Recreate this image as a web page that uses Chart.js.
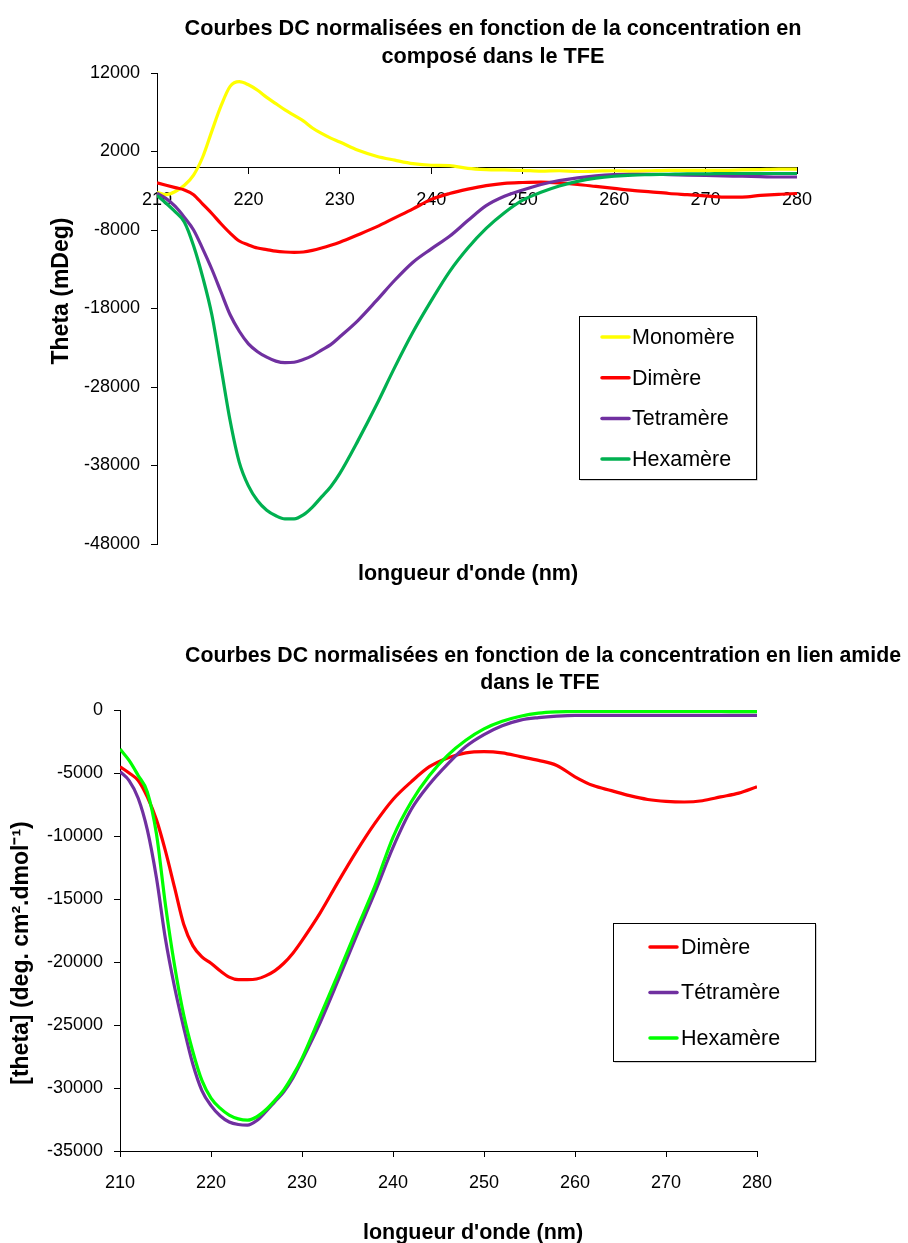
<!DOCTYPE html>
<html><head><meta charset="utf-8">
<script src="https://cdn.jsdelivr.net/npm/chart.js@4.4.1/dist/chart.umd.min.js"></script>
<style>
html,body{margin:0;padding:0;background:#fff;overflow:hidden;width:908px;height:1243px;}
#c1{position:absolute;left:0;top:0;}
#c2{position:absolute;left:0;top:610px;}
</style></head><body>
<canvas id="c1" width="908" height="600"></canvas>
<canvas id="c2" width="908" height="633"></canvas>
<script>
// ---------- data ----------
const wavelengths = [210,211,212,213,214,215,216,217,218,219,220,221,222,223,224,225,226,227,228,229,230,
  232,234,236,238,240,242,244,246,248,250,252,254,256,258,260,262,264,266,268,270,272,274,276,278,280];

// Chart 1 : mDeg
const topMonomere = [-3200,-3500,-3100,-2300,-1000,1300,4600,7800,10300,10900,10500,9800,8900,8100,7300,6600,5900,5000,4300,3700,3200,
  2150,1400,900,450,250,200,-150,-300,-350,-400,-500,-450,-550,-500,-450,-500,-450,-400,-400,-400,-400,-350,-300,-250,-250];
const topDimere = [-2000,-2300,-2600,-2900,-3500,-4700,-5900,-7200,-8400,-9400,-9900,-10300,-10500,-10700,-10800,-10850,-10800,-10600,-10300,-9950,-9550,
  -8600,-7600,-6450,-5300,-4100,-3350,-2800,-2350,-2050,-1950,-1900,-2000,-2200,-2450,-2700,-2950,-3150,-3350,-3500,-3650,-3800,-3800,-3600,-3450,-3350];
const topTetramere = [-3300,-4000,-5000,-6400,-8000,-10400,-13000,-15900,-18800,-20900,-22500,-23500,-24200,-24700,-24900,-24850,-24500,-24000,-23300,-22600,-21600,
  -19500,-17000,-14400,-12100,-10400,-8800,-6800,-4900,-3700,-2900,-2200,-1700,-1350,-1100,-950,-900,-900,-950,-1000,-1050,-1100,-1150,-1200,-1250,-1250];
const topHexamere = [-3600,-4600,-5700,-7000,-10000,-14000,-18800,-25500,-32300,-37600,-40600,-42500,-43700,-44400,-44800,-44800,-44300,-43300,-42000,-40700,-39000,
  -34800,-30300,-25500,-21000,-17000,-13300,-10300,-7800,-5800,-4200,-3200,-2400,-1800,-1400,-1150,-1000,-950,-900,-850,-850,-800,-800,-800,-800,-800];

// Chart 2 : deg.cm2.dmol-1
const botDimere = [-4500,-5000,-5600,-6900,-8700,-11200,-14100,-17000,-18700,-19600,-20100,-20700,-21200,-21400,-21400,-21350,-21100,-20700,-20100,-19300,-18300,
  -16100,-13600,-11200,-9000,-7100,-5700,-4500,-3800,-3400,-3300,-3400,-3700,-4000,-4400,-5300,-6000,-6400,-6800,-7100,-7250,-7300,-7200,-6900,-6600,-6100];
const botTetramere = [-4900,-5600,-7000,-9500,-13300,-18200,-22000,-25200,-28100,-30200,-31400,-32200,-32700,-32900,-32950,-32600,-31900,-31100,-30300,-29200,-27800,
  -24800,-21400,-17900,-14500,-10900,-7900,-5900,-4300,-2900,-1950,-1250,-800,-600,-480,-420,-420,-420,-420,-420,-420,-420,-420,-420,-420,-430];
const botHexamere = [-3100,-4000,-5200,-6500,-9800,-15500,-20300,-24200,-27100,-29400,-30800,-31600,-32150,-32450,-32550,-32300,-31750,-31000,-30150,-29000,-27650,
  -24300,-20900,-17400,-14000,-10100,-7300,-5200,-3600,-2400,-1500,-900,-500,-250,-150,-120,-120,-120,-120,-120,-120,-120,-120,-120,-130,-130];

const xTicks = [210,220,230,240,250,260,270,280];
const topYTicks = [12000,2000,-8000,-18000,-28000,-38000,-48000];
const botYTicks = [0,-5000,-10000,-15000,-20000,-25000,-30000,-35000];

// ---------- helpers ----------
const FONT = '"Liberation Sans", Arial, sans-serif';
Chart.defaults.color = '#000';
Chart.defaults.font.family = FONT;

const pts = (vals) => wavelengths.map((w, i) => ({x: w, y: vals[i]}));
const ds = (label, vals, color, order) => ({
  label, data: pts(vals), borderColor: color, backgroundColor: color,
  borderWidth: 3.2, pointRadius: 0, cubicInterpolationMode: 'monotone', order
});

const textPlugin = {
  id: 'texts',
  afterDraw(chart, args, opts) {
    const ctx = chart.ctx;
    (opts.items || []).forEach(it => {
      ctx.save();
      ctx.font = it.font;
      ctx.fillStyle = '#000';
      ctx.textAlign = 'center';
      ctx.textBaseline = it.baseline || 'alphabetic';
      ctx.translate(it.x, it.y);
      if (it.rotate) ctx.rotate(it.rotate);
      ctx.fillText(it.text, 0, 0);
      ctx.restore();
    });
  }
};

const boxLegend = {
  id: 'boxLegend',
  afterDraw(chart, args, o) {
    if (!o || !o.width) return;
    const ctx = chart.ctx;
    ctx.save();
    ctx.fillStyle = '#a0a0a0';
    ctx.fillRect(o.left + 1.5, o.top + 1.5, o.width, o.height);
    ctx.fillStyle = '#fff';
    ctx.fillRect(o.left, o.top, o.width, o.height);
    ctx.strokeStyle = '#000';
    ctx.lineWidth = 1;
    ctx.strokeRect(Math.round(o.left) + 0.5, Math.round(o.top) + 0.5, o.width, o.height);
    ctx.font = o.font;
    ctx.textBaseline = 'middle';
    ctx.textAlign = 'left';
    chart.data.datasets.forEach((d, i) => {
      const y = o.rowY + i * o.rowGap;
      ctx.strokeStyle = d.borderColor;
      ctx.lineWidth = 3.5;
      ctx.lineCap = 'round';
      ctx.beginPath();
      ctx.moveTo(o.lineX1, y);
      ctx.lineTo(o.lineX2, y);
      ctx.stroke();
      ctx.fillStyle = '#000';
      ctx.fillText(d.label, o.textX, y + 1);
    });
    ctx.restore();
  }
};

const tickFont = {family: FONT, size: 18};
const axisCommon = (ticksArr) => ({
  type: 'linear',
  afterBuildTicks: (s) => { s.ticks = ticksArr.map(v => ({value: v})); },
  ticks: {font: tickFont, color: '#000', callback: (v) => String(v), autoSkip: false, maxRotation: 0},
  grid: {display: true, drawOnChartArea: false, drawTicks: true, tickLength: 6, color: '#000', tickColor: '#000'},
  border: {display: true, color: '#000', width: 1}
});

// ---------- chart 1 ----------
const x1 = axisCommon(xTicks);
Object.assign(x1, {min: 210, max: 280, position: {y: 0}});
x1.ticks.padding = 16;
const y1 = axisCommon(topYTicks);
Object.assign(y1, {min: -48000, max: 12000, position: 'left', afterFit: (s) => { s.width = 157; }});
y1.ticks.padding = 11;

new Chart(document.getElementById('c1'), {
  type: 'line',
  data: {datasets: [
    ds('Monomère', topMonomere, '#FFFF00', 4),
    ds('Dimère', topDimere, '#FF0000', 3),
    ds('Tetramère', topTetramere, '#7030A0', 2),
    ds('Hexamère', topHexamere, '#00B050', 1)
  ]},
  options: {
    responsive: false, animation: false, events: [],
    layout: {padding: {left: 0, top: 73, right: 111, bottom: 56}},
    scales: {x: x1, y: y1},
    plugins: {
      legend: {display: false}, title: {display: false}, tooltip: {enabled: false},
      texts: {items: [
        {text: 'Courbes DC normalisées en fonction de la concentration en', x: 493, y: 35, font: 'bold 21.7px ' + FONT},
        {text: 'composé dans le TFE', x: 493, y: 63, font: 'bold 21.7px ' + FONT},
        {text: "longueur d'onde (nm)", x: 468, y: 580, font: 'bold 21.5px ' + FONT},
        {text: 'Theta (mDeg)', x: 62, y: 291, font: 'bold 23px ' + FONT, rotate: -Math.PI / 2, baseline: 'middle'}
      ]},
      boxLegend: {left: 579, top: 316, width: 177, height: 163, rowY: 337, rowGap: 40.7,
        lineX1: 602, lineX2: 629, textX: 632, font: '21.5px ' + FONT}
    }
  },
  plugins: [textPlugin, boxLegend]
});

// ---------- chart 2 ----------
const x2 = axisCommon(xTicks);
Object.assign(x2, {min: 210, max: 280, position: 'bottom', afterFit: (s) => { s.height = 92; }});
x2.ticks.padding = 15;
const y2 = axisCommon(botYTicks);
Object.assign(y2, {min: -35000, max: 0, position: 'left', afterFit: (s) => { s.width = 120; }});
y2.ticks.padding = 11;

new Chart(document.getElementById('c2'), {
  type: 'line',
  data: {datasets: [
    ds('Dimère', botDimere, '#FF0000', 3),
    ds('Tétramère', botTetramere, '#7030A0', 2),
    ds('Hexamère', botHexamere, '#00FF00', 1)
  ]},
  options: {
    responsive: false, animation: false, events: [],
    layout: {padding: {left: 0, top: 100, right: 151, bottom: 0}},
    scales: {x: x2, y: y2},
    plugins: {
      legend: {display: false}, title: {display: false}, tooltip: {enabled: false},
      texts: {items: [
        {text: 'Courbes DC normalisées en fonction de la concentration en lien amide', x: 543, y: 52, font: 'bold 21.3px ' + FONT},
        {text: 'dans le TFE', x: 540, y: 79, font: 'bold 21.3px ' + FONT},
        {text: "longueur d'onde (nm)", x: 473, y: 629, font: 'bold 21.5px ' + FONT},
        {text: '[theta] (deg. cm².dmol⁻¹)', x: 22, y: 343, font: 'bold 23px ' + FONT, rotate: -Math.PI / 2, baseline: 'middle'}
      ]},
      boxLegend: {left: 613, top: 313, width: 202, height: 138, rowY: 337, rowGap: 45.5,
        lineX1: 650, lineX2: 677, textX: 681, font: '21.5px ' + FONT}
    }
  },
  plugins: [textPlugin, boxLegend]
});
</script>
</body></html>
